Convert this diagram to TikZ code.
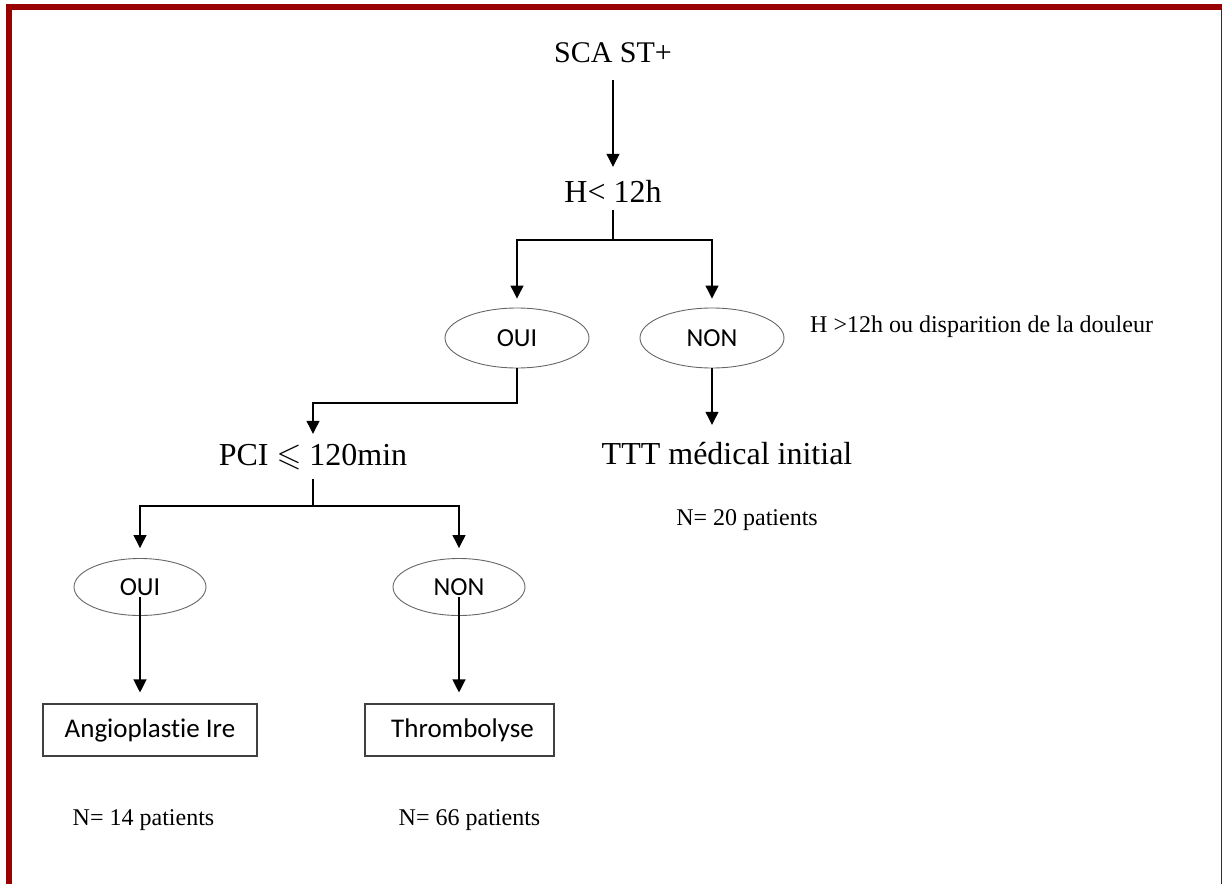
\documentclass[tikz,border=0pt]{standalone}
\usepackage{amssymb}
\usepackage{fontspec}
\setmainfont{Liberation Serif}
\newfontfamily\calibri[Ligatures=NoCommon]{Carlito}
\usetikzlibrary{arrows.meta,shapes.geometric}
\definecolor{framered}{RGB}{153,0,0}

\begin{document}
\begin{tikzpicture}[x=1pt,y=-1pt,
  every node/.style={inner sep=0pt},
  big/.style={font=\fontsize{32}{38}\selectfont,anchor=base,text height=22pt,text depth=0pt},
  small/.style={font=\fontsize{24}{29}\selectfont,anchor=base},
  choix/.style={ellipse,draw=black!60,line width=0.9pt,font=\calibri\fontsize{26}{31}\selectfont},
  boite/.style={rectangle,draw=black!75,line width=1.1pt,minimum height=52pt,font=\calibri\fontsize{27}{32}\selectfont},
  lien/.style={line width=1.2pt},
  fleche/.style={lien,-{Triangle[width=13pt,length=13pt]}}]
  \useasboundingbox (0,0) rectangle (1222,883);
  \clip (0,0) rectangle (1222,883);
  \draw[framered,line width=6pt] (9,7) rectangle (1224,900);

  % tree
  \node[big,font=\fontsize{30}{36}\selectfont] (sca) at (613,63) {SCA ST+};
  \node[big] (hlt) at (613,202) {H< 12h};
  \node[choix,minimum width=144pt,minimum height=60pt] (oui1) at (517,338) {OUI};
  \node[choix,minimum width=144pt,minimum height=60pt] (non1) at (712,338) {NON};
  \node[small,anchor=base west] (h12) at (810,332) {H >12h ou disparition de la douleur};
  \node[big] (pci) at (313,465) {PCI $\leqslant$ 120min};
  \node[big] (ttt) at (727,464) {TTT médical initial};
  \node[small] (n20) at (747,525) {N= 20 patients};
  \node[choix,minimum width=132pt,minimum height=57pt] (oui2) at (140,587) {OUI};
  \node[choix,minimum width=132pt,minimum height=57pt] (non2) at (459,587) {NON};
  \node[boite,minimum width=214pt] (angio) at (150,730) {Angioplastie Ire};
  \node[boite,minimum width=189pt] (thrombo) at (459.5,730) {\ Thrombolyse};
  \node[small] (n14) at (143.5,825) {N= 14 patients};
  \node[small] (n66) at (469.5,825) {N= 66 patients};

  \coordinate (j1) at (613,240);
  \coordinate (j2) at (313,403);
  \coordinate (j3) at (313,506);

  % connectors
  \draw[fleche,shorten <=17pt,shorten >=13pt] (sca.south) -- (hlt.north);
  \draw[lien,shorten <=8pt] (hlt.south) -- (j1);
  \draw[fleche,shorten >=9pt] (j1) -| (oui1.north);
  \draw[fleche,shorten >=9pt] (j1) -| (non1.north);
  \draw[fleche,shorten >=9pt] (oui1.south) |- (j2) -- (pci.north);
  \draw[fleche,shorten >=17pt] (non1.south) -- (non1.south |- ttt.north);
  \draw[lien,shorten <=14pt] (pci.south) -- (j3);
  \draw[fleche,shorten >=10pt] (j3) -| (oui2.north);
  \draw[fleche,shorten >=10pt] (j3) -| (non2.north);
  \draw[fleche,shorten >=11pt] ([yshift=-10pt]oui2.center) -- (oui2 |- angio.north);
  \draw[fleche,shorten >=11pt] ([yshift=-10pt]non2.center) -- (non2 |- thrombo.north);
\end{tikzpicture}
\end{document}
